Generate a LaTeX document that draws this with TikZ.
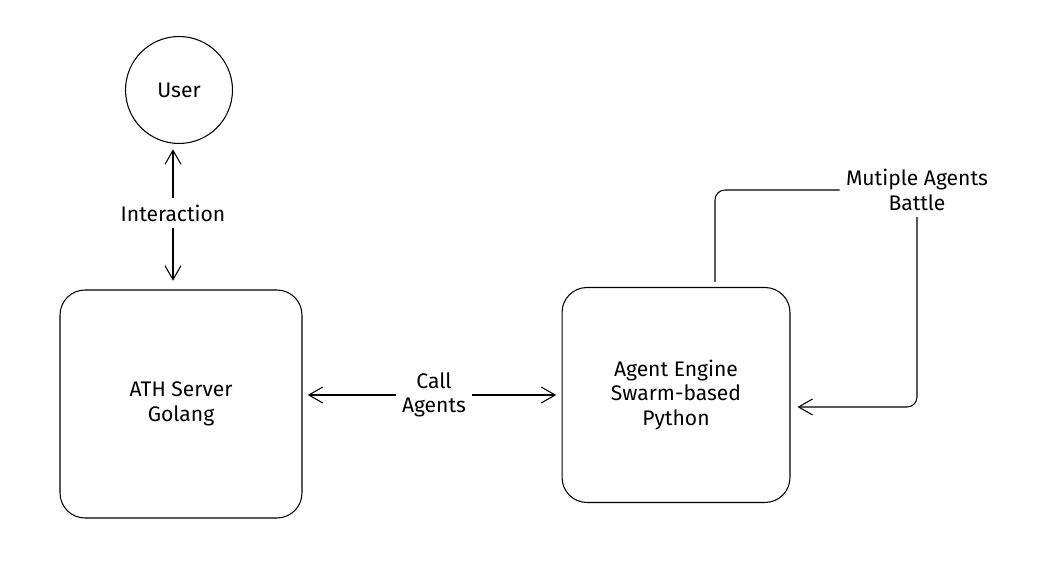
\documentclass[tikz,border=0pt]{standalone}
\usepackage{fontspec}
\setmainfont{Fira Sans}
\usetikzlibrary{positioning,arrows.meta}

\begin{document}
\begin{tikzpicture}[x=0.02cm, y=-0.02cm, line width=0.6pt, font=\large,
	box/.style={draw, rounded corners=0.5cm, align=center},
	barb/.style={-{Straight Barb[length=2.8mm, width=3.2mm]}}]
	\pgfmathsetmacro{\ServerWidth}{4.84}
	\pgfmathsetmacro{\ServerHeight}{4.56}
	\pgfmathsetmacro{\EngineWidth}{4.56}
	\pgfmathsetmacro{\EngineHeight}{4.3}
	\useasboundingbox (0,0) rectangle (1037,577);

	\node[circle, draw, minimum size=2.14cm] (user) at (179,90) {User};
	\node[box, minimum width=\ServerWidth cm, minimum height=\ServerHeight cm] (server) at (181,404) {ATH Server\\Golang};
	\node[box, minimum width=\EngineWidth cm, minimum height=\EngineHeight cm] (engine) at (676,395) {Agent Engine\\Swarm-based\\Python};

	\node (interaction) at (173,213) {Interaction};
	\node[align=center] (call) at (434,395) {Call\\Agents};
	\node[align=center] (battle) at (917,190) {Mutiple Agents\\Battle};

	\draw[barb, shorten >=3pt] (interaction.north) -- (interaction.north |- user.south);
	\draw[barb, shorten >=5pt] (interaction.south) -- (interaction.south |- server.north);
	\draw[barb, shorten >=3pt] (call.west) -- (call.west -| server.east);
	\draw[barb, shorten >=3pt] (call.east) -- (engine.west);

	% loop back into the engine
	\draw[rounded corners=0.2cm] ([xshift=0.78cm, yshift=0.1cm]engine.north) |- (battle.west);
	\draw[barb, rounded corners=0.2cm, shorten >=4pt] (battle.south) |- ([yshift=-0.24cm]engine.east);
\end{tikzpicture}
\end{document}
